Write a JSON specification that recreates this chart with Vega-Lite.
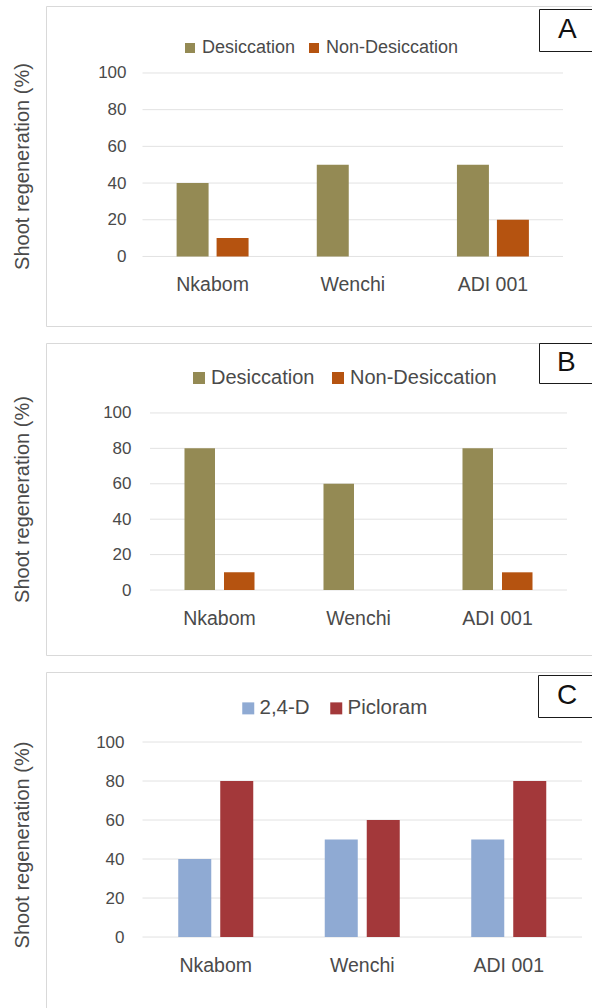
{
  "$schema": "https://vega.github.io/schema/vega-lite/v6.json",
  "padding": {"left": 11, "top": 5, "right": 0, "bottom": 0},
  "spacing": 15,
  "background": "white",
  "datasets": {
    "A": [
      {"cultivar": "Nkabom", "treatment": "Desiccation", "value": 40, "panel": "A"},
      {"cultivar": "Nkabom", "treatment": "Non-Desiccation", "value": 10, "panel": "A"},
      {"cultivar": "Wenchi", "treatment": "Desiccation", "value": 50, "panel": "A"},
      {"cultivar": "Wenchi", "treatment": "Non-Desiccation", "value": 0, "panel": "A"},
      {"cultivar": "ADI 001", "treatment": "Desiccation", "value": 50, "panel": "A"},
      {"cultivar": "ADI 001", "treatment": "Non-Desiccation", "value": 20, "panel": "A"}
    ],
    "B": [
      {"cultivar": "Nkabom", "treatment": "Desiccation", "value": 80, "panel": "B"},
      {"cultivar": "Nkabom", "treatment": "Non-Desiccation", "value": 10, "panel": "B"},
      {"cultivar": "Wenchi", "treatment": "Desiccation", "value": 60, "panel": "B"},
      {"cultivar": "Wenchi", "treatment": "Non-Desiccation", "value": 0, "panel": "B"},
      {"cultivar": "ADI 001", "treatment": "Desiccation", "value": 80, "panel": "B"},
      {"cultivar": "ADI 001", "treatment": "Non-Desiccation", "value": 10, "panel": "B"}
    ],
    "C": [
      {"cultivar": "Nkabom", "treatment": "2,4-D", "value": 40, "panel": "C"},
      {"cultivar": "Nkabom", "treatment": "Picloram", "value": 80, "panel": "C"},
      {"cultivar": "Wenchi", "treatment": "2,4-D", "value": 50, "panel": "C"},
      {"cultivar": "Wenchi", "treatment": "Picloram", "value": 60, "panel": "C"},
      {"cultivar": "ADI 001", "treatment": "2,4-D", "value": 50, "panel": "C"},
      {"cultivar": "ADI 001", "treatment": "Picloram", "value": 80, "panel": "C"}
    ],
    "grid": [{"v": 0}, {"v": 20}, {"v": 40}, {"v": 60}, {"v": 80}, {"v": 100}]
  },
  "resolve": {"scale": {"x": "independent", "y": "independent", "xOffset": "independent", "color": "independent", "opacity": "independent"}},
  "vconcat": [
    {
      "width": 555, "height": 320,
      "layer": [
        {
          "data": {"name": "grid"},
          "mark": {"type": "rule", "color": "#e2e2e2", "strokeWidth": 1},
          "encoding": {
            "y": {"field": "v", "type": "quantitative", "title": "Shoot regeneration (%)", "scale": {"domain": [-37.9, 136.5], "nice": false, "zero": false},
              "axis": {"title": "Shoot regeneration (%)", "values": [0, 20, 40, 60, 80, 100], "grid": false, "domain": false, "ticks": false, "tickSize": 0, "labelPadding": 0, "offset": -80, "titleX": -104, "titleBaseline": "middle", "labelFontSize": 17, "titleFontSize": 20}},
            "x": {"datum": "Nkabom", "bandPosition": 0, "type": "nominal", "title": null,
              "axis": {"title": null, "labelAngle": 0, "domain": false, "ticks": false, "tickSize": 0, "labelPadding": 28, "labelBaseline": "middle", "offset": -69.5, "labelFontSize": 19.5}},
            "x2": {"datum": "ADI 001", "bandPosition": 1}
          }
        },
        {
          "data": {"name": "A"},
          "mark": {"type": "bar"},
          "encoding": {
            "x": {"field": "cultivar", "type": "nominal", "title": null, "sort": ["Nkabom", "Wenchi", "ADI 001"],
              "scale": {"domain": ["Nkabom", "Wenchi", "ADI 001"], "paddingInner": 0, "paddingOuter": 0.4798, "align": 0.7175},
              "axis": {"title": null, "labelAngle": 0, "domain": false, "ticks": false, "tickSize": 0, "labelPadding": 28, "labelBaseline": "middle", "offset": -69.5, "labelFontSize": 19.5}},
            "xOffset": {"field": "treatment", "type": "nominal", "sort": ["Desiccation", "Non-Desiccation"], "scale": {"paddingInner": 0.2, "paddingOuter": 0.853}},
            "y": {"field": "value", "type": "quantitative", "title": "Shoot regeneration (%)", "scale": {"domain": [-37.9, 136.5], "nice": false, "zero": false},
              "axis": {"title": "Shoot regeneration (%)", "values": [0, 20, 40, 60, 80, 100], "grid": false, "domain": false, "ticks": false, "tickSize": 0, "labelPadding": 0, "offset": -80, "titleX": -104, "titleBaseline": "middle", "labelFontSize": 17, "titleFontSize": 20}},
            "color": {"field": "treatment", "type": "nominal", "scale": {"domain": ["Desiccation", "Non-Desiccation"], "range": ["#948A54", "#B55310"]},
              "legend": {"title": null, "orient": "none", "legendX": 135, "legendY": 33, "direction": "horizontal", "symbolType": "square", "symbolSize": 100, "symbolStrokeWidth": 0, "labelFontSize": 18, "labelOffset": 3, "columnPadding": 9}},
            "opacity": {"field": "panel", "type": "ordinal", "scale": {"domain": ["A", "_"], "range": [1, 1]},
              "legend": {"title": null, "orient": "none", "legendX": 493, "legendY": 3, "direction": "horizontal", "columnPadding": 0, "symbolSize": 0, "symbolStrokeWidth": 0, "labelFontSize": 28, "labelColor": "#111111", "labelOffset": -16, "padding": 7, "strokeColor": "#1a1a1a", "labelExpr": "datum.label == '_' ? '' : datum.label"}}
          }
        }
      ]
    },
    {
      "width": 555, "height": 312,
      "layer": [
        {
          "data": {"name": "grid"},
          "mark": {"type": "rule", "color": "#e2e2e2", "strokeWidth": 1},
          "encoding": {
            "y": {"field": "v", "type": "quantitative", "title": "Shoot regeneration (%)", "scale": {"domain": [-36.7, 139.5], "nice": false, "zero": false},
              "axis": {"title": "Shoot regeneration (%)", "values": [0, 20, 40, 60, 80, 100], "grid": false, "domain": false, "ticks": false, "tickSize": 0, "labelPadding": 0, "offset": -85, "titleX": -109, "titleBaseline": "middle", "labelFontSize": 17, "titleFontSize": 20}},
            "x": {"datum": "Nkabom", "bandPosition": 0, "type": "nominal", "title": null,
              "axis": {"title": null, "labelAngle": 0, "domain": false, "ticks": false, "tickSize": 0, "labelPadding": 28, "labelBaseline": "middle", "offset": -65, "labelFontSize": 19.5}},
            "x2": {"datum": "ADI 001", "bandPosition": 1}
          }
        },
        {
          "data": {"name": "B"},
          "mark": {"type": "bar"},
          "encoding": {
            "x": {"field": "cultivar", "type": "nominal", "title": null, "sort": ["Nkabom", "Wenchi", "ADI 001"],
              "scale": {"domain": ["Nkabom", "Wenchi", "ADI 001"], "paddingInner": 0, "paddingOuter": 0.4964, "align": 0.7536},
              "axis": {"title": null, "labelAngle": 0, "domain": false, "ticks": false, "tickSize": 0, "labelPadding": 28, "labelBaseline": "middle", "offset": -65, "labelFontSize": 19.5}},
            "xOffset": {"field": "treatment", "type": "nominal", "sort": ["Desiccation", "Non-Desiccation"], "scale": {"paddingInner": 0.228, "paddingOuter": 0.873}},
            "y": {"field": "value", "type": "quantitative", "title": "Shoot regeneration (%)", "scale": {"domain": [-36.7, 139.5], "nice": false, "zero": false},
              "axis": {"title": "Shoot regeneration (%)", "values": [0, 20, 40, 60, 80, 100], "grid": false, "domain": false, "ticks": false, "tickSize": 0, "labelPadding": 0, "offset": -85, "titleX": -109, "titleBaseline": "middle", "labelFontSize": 17, "titleFontSize": 20}},
            "color": {"field": "treatment", "type": "nominal", "scale": {"domain": ["Desiccation", "Non-Desiccation"], "range": ["#948A54", "#B55310"]},
              "legend": {"title": null, "orient": "none", "legendX": 143, "legendY": 25, "direction": "horizontal", "symbolType": "square", "symbolSize": 144, "symbolStrokeWidth": 0, "labelFontSize": 20, "labelOffset": 2, "columnPadding": 13}},
            "opacity": {"field": "panel", "type": "ordinal", "scale": {"domain": ["B", "_"], "range": [1, 1]},
              "legend": {"title": null, "orient": "none", "legendX": 493, "legendY": 0, "direction": "horizontal", "columnPadding": 0, "symbolSize": 0, "symbolStrokeWidth": 0, "labelFontSize": 28, "labelColor": "#111111", "labelOffset": -16, "padding": 6, "strokeColor": "#1a1a1a", "labelExpr": "datum.label == '_' ? '' : datum.label"}}
          }
        }
      ]
    },
    {
      "width": 555, "height": 345,
      "layer": [
        {
          "data": {"name": "grid"},
          "mark": {"type": "rule", "color": "#e2e2e2", "strokeWidth": 1},
          "encoding": {
            "y": {"field": "v", "type": "quantitative", "title": "Shoot regeneration (%)", "scale": {"domain": [-41.0, 135.9], "nice": false, "zero": false},
              "axis": {"title": "Shoot regeneration (%)", "values": [0, 20, 40, 60, 80, 100], "grid": false, "domain": false, "ticks": false, "tickSize": 0, "labelPadding": 0, "offset": -78, "titleX": -102, "titleBaseline": "middle", "labelFontSize": 17, "titleFontSize": 20}},
            "x": {"datum": "Nkabom", "bandPosition": 0, "type": "nominal", "title": null,
              "axis": {"title": null, "labelAngle": 0, "domain": false, "ticks": false, "tickSize": 0, "labelPadding": 28, "labelBaseline": "middle", "offset": -80, "labelFontSize": 19.5}},
            "x2": {"datum": "ADI 001", "bandPosition": 1}
          }
        },
        {
          "data": {"name": "C"},
          "mark": {"type": "bar"},
          "encoding": {
            "x": {"field": "cultivar", "type": "nominal", "title": null, "sort": ["Nkabom", "Wenchi", "ADI 001"],
              "scale": {"domain": ["Nkabom", "Wenchi", "ADI 001"], "paddingInner": 0, "paddingOuter": 0.3942, "align": 0.8355},
              "axis": {"title": null, "labelAngle": 0, "domain": false, "ticks": false, "tickSize": 0, "labelPadding": 28, "labelBaseline": "middle", "offset": -80, "labelFontSize": 19.5}},
            "xOffset": {"field": "treatment", "type": "nominal", "sort": ["2,4-D", "Picloram"], "scale": {"paddingInner": 0.214, "paddingOuter": 0.851}},
            "y": {"field": "value", "type": "quantitative", "title": "Shoot regeneration (%)", "scale": {"domain": [-41.0, 135.9], "nice": false, "zero": false},
              "axis": {"title": "Shoot regeneration (%)", "values": [0, 20, 40, 60, 80, 100], "grid": false, "domain": false, "ticks": false, "tickSize": 0, "labelPadding": 0, "offset": -78, "titleX": -102, "titleBaseline": "middle", "labelFontSize": 17, "titleFontSize": 20}},
            "color": {"field": "treatment", "type": "nominal", "scale": {"domain": ["2,4-D", "Picloram"], "range": ["#8FAAD3", "#A3383A"]},
              "legend": {"title": null, "orient": "none", "legendX": 192, "legendY": 26, "direction": "horizontal", "symbolType": "square", "symbolSize": 144, "symbolStrokeWidth": 0, "labelFontSize": 20.5, "labelOffset": 1, "columnPadding": 16}},
            "opacity": {"field": "panel", "type": "ordinal", "scale": {"domain": ["C", "_"], "range": [1, 1]},
              "legend": {"title": null, "orient": "none", "legendX": 492, "legendY": 3, "direction": "horizontal", "columnPadding": 0, "symbolSize": 0, "symbolStrokeWidth": 0, "labelFontSize": 28, "labelColor": "#111111", "labelOffset": -16, "padding": 7, "strokeColor": "#1a1a1a", "labelExpr": "datum.label == '_' ? '' : datum.label"}}
          }
        }
      ]
    }
  ],
  "config": {
    "font": "Liberation Sans",
    "view": {"stroke": "#d9d9d9", "strokeWidth": 1},
    "axis": {"labelColor": "#4a4a4a", "titleColor": "#4a4a4a", "titleFontWeight": "normal"},
    "legend": {"labelColor": "#4a4a4a"}
  }
}
